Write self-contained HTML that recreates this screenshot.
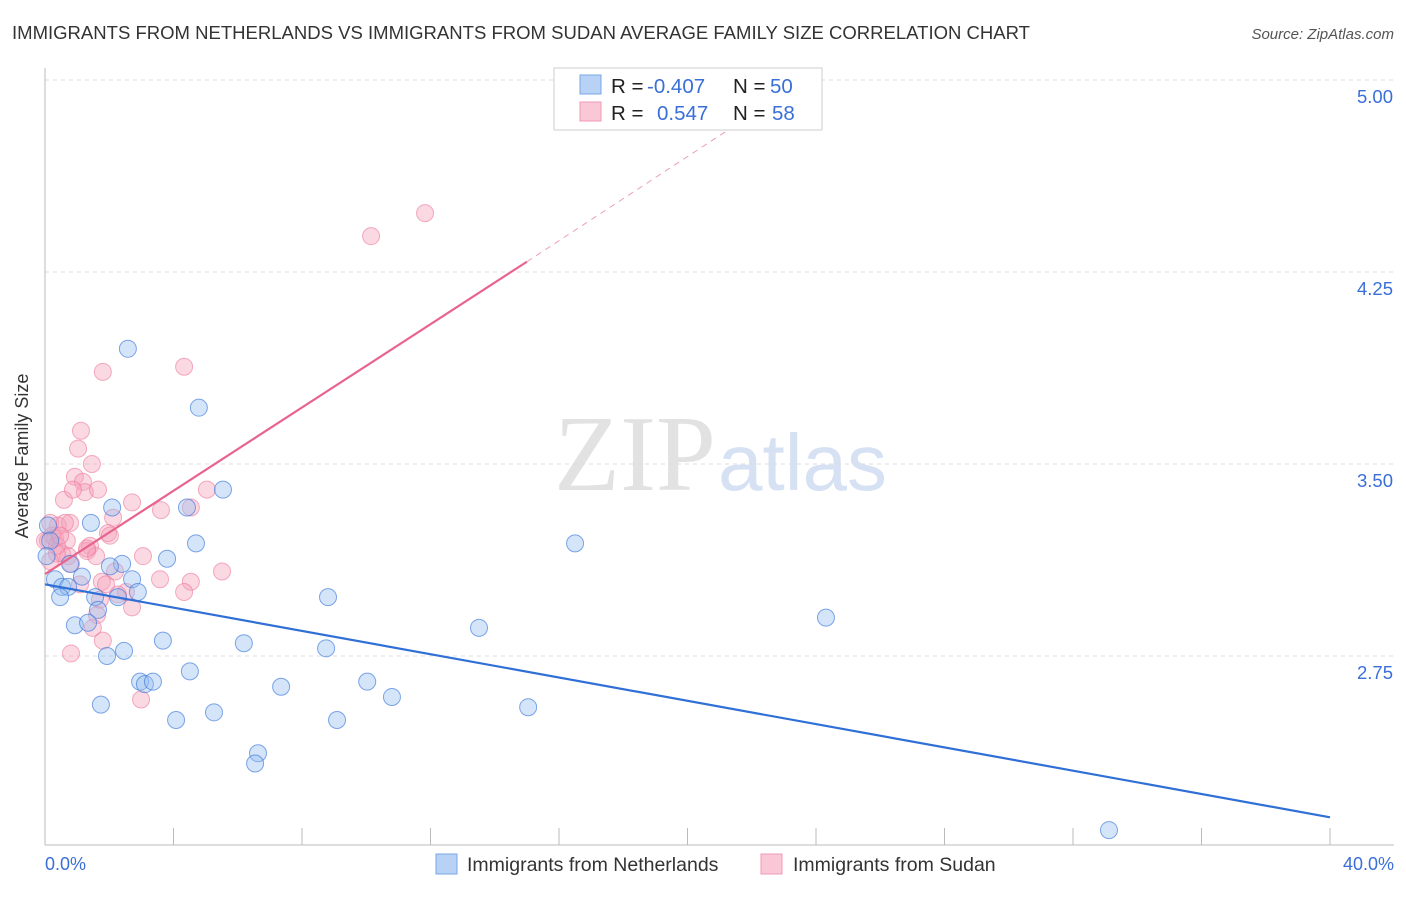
<!DOCTYPE html>
<html><head><meta charset="utf-8"><style>
body{margin:0;background:#fff;font-family:"Liberation Sans",sans-serif}
</style></head><body>
<svg id="chart" width="1406" height="892" viewBox="0 0 1406 892">
<text x="12" y="39" font-size="18" fill="#333" textLength="1018" lengthAdjust="spacingAndGlyphs">IMMIGRANTS FROM NETHERLANDS VS IMMIGRANTS FROM SUDAN AVERAGE FAMILY SIZE CORRELATION CHART</text>
<text x="1394" y="39" font-size="15" fill="#555" font-style="italic" text-anchor="end">Source: ZipAtlas.com</text>
<text x="716" y="490" font-size="108" fill="#e2e2e2" font-family="Liberation Serif,serif" text-anchor="end">ZIP</text>
<text x="718" y="490" font-size="80" fill="#d6e2f3">atlas</text>
<g id="grid"></g>
<line x1="45" y1="68" x2="45" y2="845" stroke="#bbb"/>
<line x1="45" y1="845" x2="1394" y2="845" stroke="#bbb"/>
<text x="28" y="456" font-size="18" fill="#333" text-anchor="middle" transform="rotate(-90 28 456)">Average Family Size</text>
<text x="45" y="870" font-size="18" fill="#3a6fd8">0.0%</text>
<text x="1394" y="870" font-size="18" fill="#3a6fd8" text-anchor="end">40.0%</text>
<g id="pts"></g>
<g id="lines"></g>
<g>
<rect x="554" y="68" width="268" height="62" fill="#fff" stroke="#ccc"/>
<rect x="580" y="75" width="21" height="19" fill="#b8d2f5" stroke="#7aa6e6"/>
<rect x="580" y="102" width="21" height="19" fill="#f9c7d6" stroke="#f09ab4"/>
<text x="611" y="93" font-size="20.5" fill="#222">R = <tspan fill="#3a6fd8" x="647">-0.407</tspan></text>
<text x="733" y="93" font-size="20.5" fill="#222">N = <tspan fill="#3a6fd8" x="770">50</tspan></text>
<text x="611" y="120" font-size="20.5" fill="#222">R = <tspan fill="#3a6fd8" x="657">0.547</tspan></text>
<text x="733" y="120" font-size="20.5" fill="#222">N = <tspan fill="#3a6fd8" x="772">58</tspan></text>
</g>
<g>
<rect x="436" y="854" width="21" height="20" fill="#b8d2f5" stroke="#7aa6e6"/>
<text x="467" y="871" font-size="19.5" fill="#333">Immigrants from Netherlands</text>
<rect x="761" y="854" width="21" height="20" fill="#f9c7d6" stroke="#f09ab4"/>
<text x="793" y="871" font-size="19.5" fill="#333">Immigrants from Sudan</text>
</g>
</svg>
<script>
const yTicks=[5.00,4.25,3.50,2.75];
const xTicks=[0,4,8,12,16,20,24,28,32,36,40];
const blueX=[2.58,4.79,5.54,2.09,4.42,1.43,4.70,3.80,2.40,2.02,0.78,0.31,1.15,2.71,0.53,0.72,0.47,1.56,2.27,2.89,1.65,0.93,1.34,3.67,6.19,1.93,2.46,2.96,3.11,3.36,4.51,1.74,4.08,5.26,7.35,6.63,6.54,9.09,10.03,10.80,8.75,8.81,13.51,15.04,16.50,24.31,33.12,0.09,0.16,0.05];
const blueY=[3.95,3.72,3.40,3.33,3.33,3.27,3.19,3.13,3.11,3.10,3.11,3.05,3.06,3.05,3.02,3.02,2.98,2.98,2.98,3.00,2.93,2.87,2.88,2.81,2.80,2.75,2.77,2.65,2.64,2.65,2.69,2.56,2.50,2.53,2.63,2.37,2.33,2.50,2.65,2.59,2.78,2.98,2.86,2.55,3.19,2.90,2.07,3.26,3.20,3.14];
const pinkX=[11.83,10.15,4.33,1.80,1.12,1.03,1.46,0.93,1.18,0.59,1.24,1.65,0.87,5.04,2.71,3.61,4.54,2.12,0.40,0.78,1.96,2.02,0.22,0.31,0.68,1.40,1.31,1.59,0.53,0.72,0.37,0.16,3.05,0.81,5.51,3.58,4.54,1.77,1.90,4.33,2.52,2.27,1.09,2.71,1.62,1.49,1.80,0.81,2.99,0.09,0.37,0,0.16,0.62,1.31,1.71,2.18,0.47];
const pinkY=[4.48,4.39,3.88,3.86,3.63,3.56,3.50,3.45,3.43,3.36,3.39,3.40,3.40,3.40,3.35,3.32,3.33,3.29,3.26,3.27,3.23,3.22,3.22,3.21,3.20,3.18,3.16,3.14,3.15,3.14,3.15,3.12,3.14,3.11,3.08,3.05,3.04,3.04,3.03,3.00,3.00,2.99,3.03,2.94,2.91,2.86,2.81,2.76,2.58,3.20,3.18,3.20,3.27,3.27,3.17,2.97,3.08,3.22];
const blueLine=[0,3.03,40,2.12];
const pinkLine=[0,3.07,15,4.29,22.3,4.89];
const NS='http://www.w3.org/2000/svg';
const X=v=>45+v/40*1285, Y=v=>80+(5-v)*256;
function mk(t,a,p){const e=document.createElementNS(NS,t);for(const k in a)e.setAttribute(k,a[k]);p.appendChild(e);return e;}
const grid=document.getElementById('grid');
yTicks.forEach(t=>{
 const l=mk('line',{x1:45,x2:1394,y1:Y(t),y2:Y(t),stroke:'#ddd','stroke-dasharray':'4,4'},grid);
 
 
 const tx=mk('text',{x:1393,y:Y(t)+23,'font-size':18.5,fill:'#3a6fd8','text-anchor':'end'},grid);
 tx.textContent=t.toFixed(2);
 
 
});
xTicks.forEach(t=>{
 const l=mk('line',{x1:X(t),x2:X(t),y1:828,y2:845,stroke:'#bbb'},grid);
 
 
});
const pts=document.getElementById('pts');
pinkX.forEach((x,i)=>{
 const c=mk('circle',{cx:X(x),cy:Y(pinkY[i]),r:8.5,fill:'rgba(244,160,185,0.4)',stroke:'rgba(236,120,155,0.6)','stroke-width':1},pts);
 
 
});
blueX.forEach((x,i)=>{
 const c=mk('circle',{cx:X(x),cy:Y(blueY[i]),r:8.5,fill:'rgba(150,190,240,0.4)',stroke:'rgba(60,120,220,0.65)','stroke-width':1},pts);
 
 
});
const lines=document.getElementById('lines');
const bl=mk('line',{x1:X(blueLine[0]),y1:Y(blueLine[1]),x2:X(blueLine[2]),y2:Y(blueLine[3]),stroke:'#2f6fd6','stroke-width':2.2},lines);


const pl=mk('line',{x1:X(pinkLine[0]),y1:Y(pinkLine[1]),x2:X(pinkLine[2]),y2:Y(pinkLine[3]),stroke:'#e8648f','stroke-width':2.2},lines);


const pd=mk('line',{x1:X(pinkLine[2]),y1:Y(pinkLine[3]),x2:X(pinkLine[4]),y2:Y(pinkLine[5]),stroke:'#eba0b6','stroke-width':1,'stroke-dasharray':'6,5'},lines);


</script>
</body></html>
